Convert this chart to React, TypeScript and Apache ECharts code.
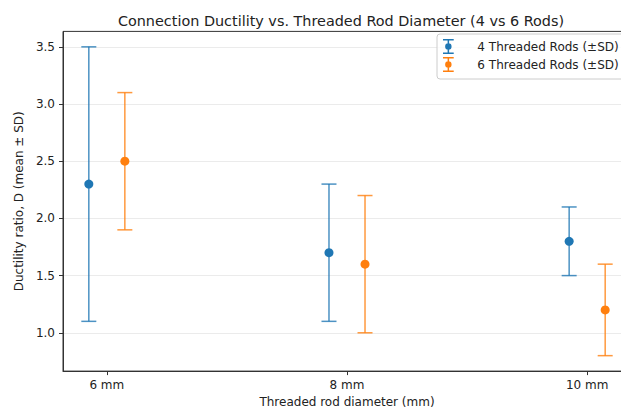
import React, { useEffect, useRef } from "react";
import * as echarts from "echarts";

const diameters = [6, 8, 10];
const tickLabelsY = [1.0, 1.5, 2.0, 2.5, 3.0, 3.5];
const mean4 = [2.3, 1.7, 1.8];
const sd4 = [1.2, 0.6, 0.3];
const mean6 = [2.5, 1.6, 1.2];
const sd6 = [0.6, 0.6, 0.4];
const name4 = "4 Threaded Rods (\u00b1SD)";
const name6 = "6 Threaded Rods (\u00b1SD)";

const OFFSET = 0.15;
const BLUE = "#1f77b4";
const ORANGE = "#ff7f0e";
const FONT = "DejaVu Sans";

const icon =
  "path://M1,0H11V1.4H1Z M5.3,0H6.7V14H5.3Z M1,12.6H11V14H1Z M9,7A3,3 0 1,1 3,7A3,3 0 1,1 9,7Z";

function errorSeries(name: string, means: number[], sds: number[], dx: number, color: string) {
  const data = diameters.map((d, i) => [d + dx, means[i] - sds[i], means[i] + sds[i]]);
  return {
    type: "custom",
    name: name + "_err",
    data,
    z: 2,
    renderItem: (params: any, api: any) => {
      const x = api.value(0);
      const lo = api.coord([x, api.value(1)]);
      const hi = api.coord([x, api.value(2)]);
      const cap = 7.5;
      const style = { stroke: color, lineWidth: 1.5, opacity: 0.8 };
      return {
        type: "group",
        children: [
          { type: "line", shape: { x1: lo[0], y1: lo[1], x2: hi[0], y2: hi[1] }, style },
          { type: "line", shape: { x1: lo[0] - cap, y1: lo[1], x2: lo[0] + cap, y2: lo[1] }, style },
          { type: "line", shape: { x1: hi[0] - cap, y1: hi[1], x2: hi[0] + cap, y2: hi[1] }, style },
        ],
      };
    },
  };
}

function meanSeries(name: string, means: number[], dx: number, color: string) {
  return {
    type: "scatter",
    name,
    data: diameters.map((d, i) => [d + dx, means[i]]),
    symbol: "circle",
    symbolSize: 9,
    itemStyle: { color, opacity: 1 },
    z: 3,
  };
}

export default function App() {
  const ref = useRef<HTMLDivElement>(null);
  useEffect(() => {
    if (!ref.current) return;
    const chart = echarts.init(ref.current, undefined, { renderer: "svg" });
    chart.setOption({
      animation: false,
      backgroundColor: "#ffffff",
      textStyle: { fontFamily: FONT },
      title: {
        text: "Connection Ductility vs. Threaded Rod Diameter (4 vs 6 Rods)",
        left: 336,
        textAlign: "center",
        top: 9,
        textStyle: { fontFamily: FONT, fontSize: 14.4, fontWeight: "normal", color: "#222" },
      },
      legend: {
        data: [
          { name: name4, icon, itemStyle: { color: BLUE } },
          { name: name6, icon, itemStyle: { color: ORANGE } },
        ],
        orient: "vertical",
        left: 437,
        top: 34,
        padding: [5, 6, 7, 6],
        itemWidth: 24,
        itemHeight: 15,
        itemGap: 3,
        backgroundColor: "rgba(255,255,255,0.8)",
        borderColor: "#cccccc",
        borderWidth: 1,
        borderRadius: 3,
        textStyle: { fontFamily: FONT, fontSize: 12, color: "#222", padding: [0, 0, 0, 12] },
      },
      grid: { left: 63, top: 31.4, right: 9, bottom: 38.3, show: true, borderColor: "#333", borderWidth: 1 },
      xAxis: {
        type: "value",
        min: 5.635,
        max: 10.365,
        name: "Threaded rod diameter (mm)",
        nameLocation: "middle",
        nameGap: 21,
        nameTextStyle: { fontFamily: FONT, fontSize: 12, color: "#222" },
        axisLine: { show: true, lineStyle: { color: "#333", width: 1 } },
        axisTick: { show: true, length: 4, inside: false, customValues: diameters, lineStyle: { color: "#333" } },
        axisLabel: {
          customValues: diameters,
          formatter: (v: number) => `${v} mm`,
          fontFamily: FONT,
          fontSize: 12,
          color: "#222",
          margin: 8,
        },
        splitLine: { show: false },
      },
      yAxis: {
        type: "value",
        min: 0.665,
        max: 3.635,
        name: "Ductility ratio, D (mean \u00b1 SD)",
        nameLocation: "middle",
        nameGap: 30,
        nameTextStyle: { fontFamily: FONT, fontSize: 12, color: "#222" },
        axisLine: { show: true, lineStyle: { color: "#333", width: 1 } },
        axisTick: { show: true, length: 4, inside: false, customValues: tickLabelsY, lineStyle: { color: "#333" } },
        axisLabel: {
          customValues: tickLabelsY,
          formatter: (v: number) => v.toFixed(1),
          fontFamily: FONT,
          fontSize: 12,
          color: "#222",
          margin: 8,
        },
        splitLine: { show: true, lineStyle: { color: "#e6e6e6", width: 0.8 } },
      },
      series: [
        errorSeries(name4, mean4, sd4, -OFFSET, BLUE),
        errorSeries(name6, mean6, sd6, OFFSET, ORANGE),
        meanSeries(name4, mean4, -OFFSET, BLUE),
        meanSeries(name6, mean6, OFFSET, ORANGE),
      ],
    });
    return () => chart.dispose();
  }, []);
  return (
    <div style={{ position: "fixed", left: 0, top: 0, width: 621, height: 413, overflow: "hidden", background: "#fff" }}>
      <div ref={ref} style={{ width: 640, height: 413 }} />
    </div>
  );
}
